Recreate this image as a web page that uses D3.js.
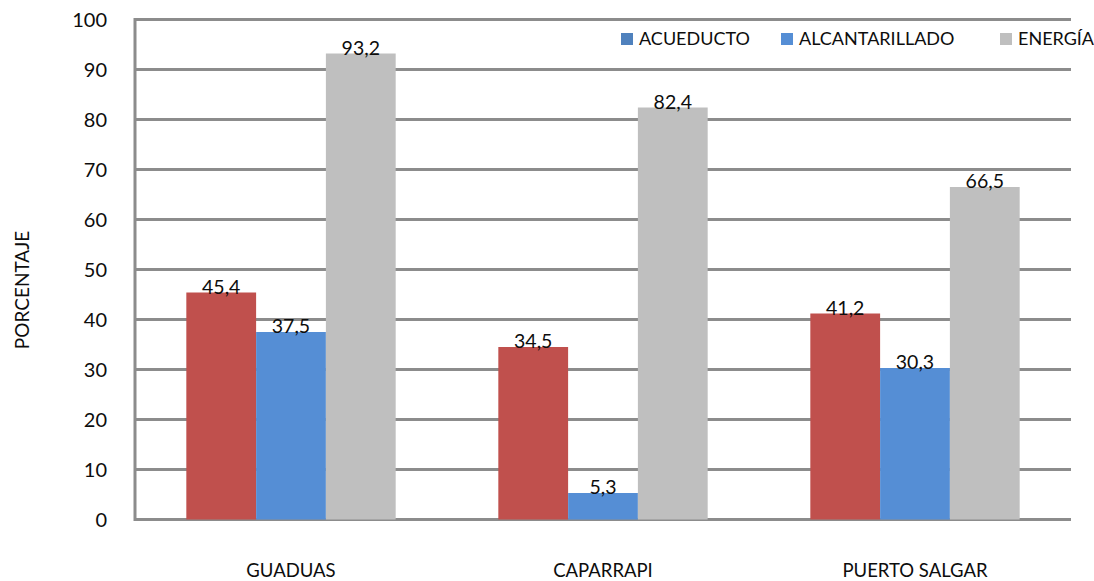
<!DOCTYPE html>
<html>
<head>
<meta charset="utf-8">
<script src="https://cdn.jsdelivr.net/npm/d3@7"></script>
<style>
  body { margin: 0; background: #fff; }
  text { font-family: Lato, "Open Sans", sans-serif; fill: #0d0d0d; }
</style>
</head>
<body>
<svg id="chart" width="1094" height="581"></svg>
<script>
// data
const municipios = ["GUADUAS", "CAPARRAPI", "PUERTO SALGAR"];
const servicios = ["ACUEDUCTO", "ALCANTARILLADO", "ENERGÍA"];
const acueducto = [45.4, 34.5, 41.2];
const alcantarillado = [37.5, 5.3, 30.3];
const energia = [93.2, 82.4, 66.5];
const yTicks = [0, 10, 20, 30, 40, 50, 60, 70, 80, 90, 100];

const barColors = ["#c0504d", "#558ed5", "#bfbfbf"];
// legend swatches in the original do not match the bars exactly
const legendColors = ["#4f81bd", "#558ed5", "#bfbfbf"];

const series = [acueducto, alcantarillado, energia];
const rows = municipios.map((m, i) => ({
  name: m,
  values: servicios.map((s, j) => ({ key: s, idx: j, value: series[j][i] }))
}));

const svg = d3.select("#chart");
const plotLeft = 135, plotRight = 1071, plotTop = 19.5, plotBottom = 519.5;

const x = d3.scaleBand().domain(municipios).range([plotLeft, plotRight])
  .paddingInner(0.329).paddingOuter(0.1645);
const xs = d3.scaleBand().domain(servicios).range([0, x.bandwidth()]);
const y = d3.scaleLinear().domain([0, 100]).range([plotBottom, plotTop]);

// grid
svg.append("g").selectAll("line").data(yTicks).join("line")
  .attr("x1", plotLeft).attr("x2", plotRight)
  .attr("y1", d => y(d)).attr("y2", d => y(d))
  .attr("stroke", "#8c8c8c").attr("stroke-width", 3);
svg.append("line")
  .attr("x1", plotLeft).attr("x2", plotLeft).attr("y1", plotTop - 1.5).attr("y2", plotBottom + 1.5)
  .attr("stroke", "#8c8c8c").attr("stroke-width", 3);

// y tick labels
svg.append("g").selectAll("text").data(yTicks).join("text")
  .attr("x", 107).attr("y", d => y(d)).attr("dy", "0.35em")
  .attr("text-anchor", "end").attr("font-size", 20)
  .text(d => d);

// bars
const groups = svg.append("g").selectAll("g").data(rows).join("g")
  .attr("transform", d => `translate(${x(d.name)},0)`);
groups.selectAll("rect").data(d => d.values).join("rect")
  .attr("x", d => xs(d.key)).attr("width", xs.bandwidth())
  .attr("y", d => y(d.value)).attr("height", d => y(0) - y(d.value))
  .attr("fill", d => barColors[d.idx]);
groups.selectAll("text").data(d => d.values).join("text")
  .attr("x", d => xs(d.key) + xs.bandwidth() / 2)
  .attr("y", d => y(d.value) + 1)
  .attr("text-anchor", "middle").attr("font-size", 19.5)
  .text(d => d3.format(".1f")(d.value).replace(".", ","));

// category labels
svg.append("g").selectAll("text").data(municipios).join("text")
  .attr("x", d => x(d) + x.bandwidth() / 2).attr("y", 577)
  .attr("text-anchor", "middle").attr("font-size", 18.5)
  .text(d => d);

// axis title
svg.append("text")
  .attr("transform", "translate(29,290) rotate(-90)")
  .attr("text-anchor", "middle").attr("font-size", 19)
  .text("PORCENTAJE");

// legend
const legendX = [621, 781, 1000];
const legend = svg.append("g").selectAll("g").data(servicios).join("g")
  .attr("transform", (d, i) => `translate(${legendX[i]},33)`);
legend.append("rect").attr("width", 12).attr("height", 12)
  .attr("fill", (d, i) => legendColors[i]);
legend.append("text").attr("x", 18).attr("y", 6).attr("dy", "0.35em")
  .attr("font-size", 18).text(d => d);
</script>
</body>
</html>
